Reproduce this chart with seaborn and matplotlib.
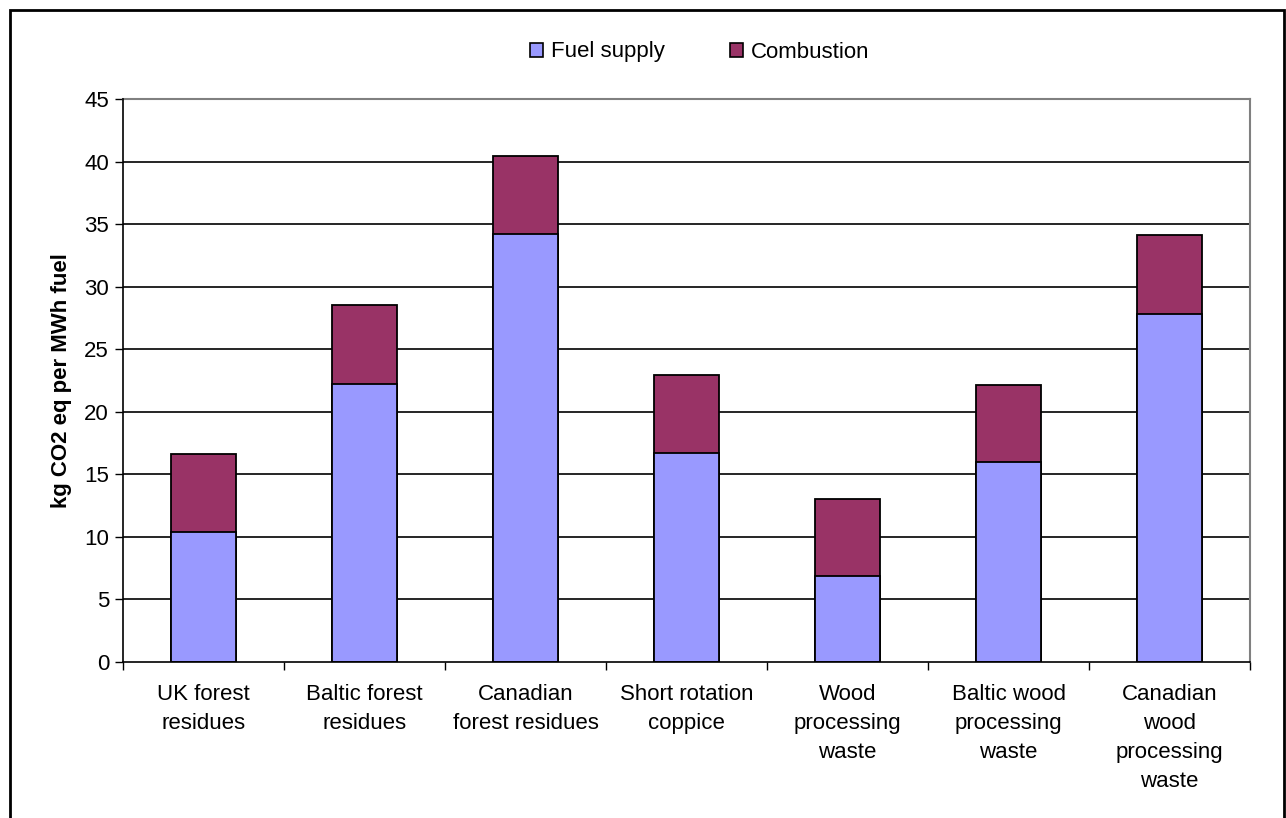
import matplotlib
matplotlib.use("Agg")
import matplotlib.pyplot as plt
import seaborn as sns
import pandas as pd
import numpy as np
from matplotlib.patches import Rectangle, Patch

categories = ["UK forest\nresidues", "Baltic forest\nresidues", "Canadian\nforest residues",
              "Short rotation\ncoppice", "Wood\nprocessing\nwaste", "Baltic wood\nprocessing\nwaste",
              "Canadian\nwood\nprocessing\nwaste"]
fuel_supply = [10.4, 22.2, 34.2, 16.7, 6.85, 16.0, 27.8]
combustion = [6.25, 6.3, 6.25, 6.2, 6.2, 6.15, 6.3]
series_names = ["Fuel supply", "Combustion"]
y_ticks = [0, 5, 10, 15, 20, 25, 30, 35, 40, 45]
y_label = "kg CO2 eq per MWh fuel"

sns.set_theme(style="white")
plt.rcParams['font.family'] = ['Liberation Sans', 'DejaVu Sans']
plt.rcParams['text.color'] = 'black'
plt.rcParams['axes.labelcolor'] = 'black'
plt.rcParams['xtick.color'] = 'black'
plt.rcParams['ytick.color'] = 'black'

FUEL_C = "#9999FF"
COMB_C = "#993366"
FS = 16

df = pd.DataFrame({"cat": categories, "fuel": fuel_supply, "comb": combustion})
df["total"] = df["fuel"] + df["comb"]

fig = plt.figure(figsize=(12.86, 8.18), dpi=100)
ax = fig.add_axes([123/1286, 1-662/818, (1250-123)/1286, (662-99)/818])

sns.barplot(data=df, x="cat", y="total", color=COMB_C, width=0.4, edgecolor="black",
            linewidth=1.3, saturation=1, ax=ax, zorder=3)
sns.barplot(data=df, x="cat", y="fuel", color=FUEL_C, width=0.4, edgecolor="black",
            linewidth=1.3, saturation=1, ax=ax, zorder=4)

ax.set_ylim(0, 45)
ax.set_xlim(-0.5, len(categories) - 0.5)
ax.set_yticks(y_ticks)
ax.set_yticklabels([str(t) for t in y_ticks], fontsize=FS, color="black")
for t in y_ticks[1:-1]:
    ax.axhline(t, color="black", linewidth=1.2, zorder=1)

ax.set_xlabel("")
ax.set_ylabel(y_label, fontsize=FS, fontweight="bold", labelpad=9, color="black")
ax.set_xticks(range(len(categories)))
ax.set_xticklabels(categories, fontsize=FS, linespacing=1.49, va="top", color="black")
ax.tick_params(axis="x", which="major", length=0, pad=16)
ax.set_xticks(np.arange(-0.5, len(categories) + 0.5, 1), minor=True)
ax.tick_params(axis="x", which="minor", length=6, width=1, color="black", direction="out", bottom=True)
ax.tick_params(axis="y", length=6, width=1, color="black", direction="out", left=True, pad=4)

for side in ["left", "bottom"]:
    ax.spines[side].set_color("black")
    ax.spines[side].set_linewidth(1.2)
for side in ["top", "right"]:
    ax.spines[side].set_color("#808080")
    ax.spines[side].set_linewidth(1.5)
ax.spines["left"].set_zorder(5)
ax.spines["bottom"].set_zorder(5)

handles = [Patch(facecolor=FUEL_C, edgecolor="black", linewidth=1.2),
           Patch(facecolor=COMB_C, edgecolor="black", linewidth=1.2)]
fig.legend(handles, series_names, loc="center", bbox_to_anchor=(700/1286, 1-52/818),
           ncol=2, frameon=False, fontsize=FS, handlelength=0.58, handleheight=0.58,
           handletextpad=0.36, columnspacing=2.95, labelcolor="black", borderpad=0)

fig.patches.append(Rectangle((10/1286, -0.05), (1284-10)/1286, 1-10/818 + 0.05,
                             transform=fig.transFigure, fill=False, edgecolor="black",
                             linewidth=2, zorder=0))

fig.savefig("out.png", dpi=100)
